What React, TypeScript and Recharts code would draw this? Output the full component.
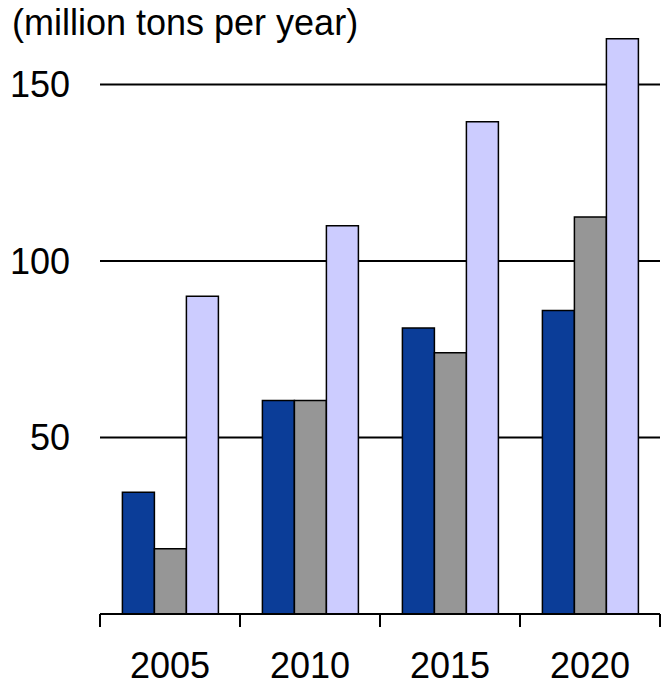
import React from 'react';
import { BarChart, Bar, XAxis, YAxis, CartesianGrid } from 'recharts';

// values (million tons per year)
const years = ['2005', '2010', '2015', '2020'];
const seriesDark = [34.5, 60.5, 81, 86];
const seriesGray = [18.5, 60.5, 74, 112.5];
const seriesLight = [90, 110, 139.5, 163];
const yTicks = [50, 100, 150];
const yMax = 170;

const data = years.map((year, i) => ({
  year,
  dark: seriesDark[i],
  gray: seriesGray[i],
  light: seriesLight[i],
}));

const FONT = '"Liberation Sans", Arial, Helvetica, sans-serif';

// year label centred in the band, tick marks on the band edges
const YearTick = (props: any) => {
  const { x, y, payload, index, width } = props;
  const half = typeof payload.offset === 'number' && payload.offset > 0
    ? payload.offset
    : width / years.length / 2;
  const last = index === years.length - 1;
  return (
    <g>
      <line x1={x - half} x2={x - half} y1={y} y2={y + 13} stroke="#000" strokeWidth={2} />
      {last && <line x1={x + half} x2={x + half} y1={y} y2={y + 13} stroke="#000" strokeWidth={2} />}
      <text x={x} y={y + 64} textAnchor="middle" fontSize={36} fontFamily={FONT} fill="#000">
        {payload.value}
      </text>
    </g>
  );
};

// only the labelled values get a grid line (linear 0..yMax over the plot height)
const gridRows = ({ offset }: any) =>
  yTicks.map((v) => offset.top + offset.height * (1 - v / yMax));

export default function App() {
  return (
    <div style={{ position: 'absolute', left: 0, top: 0, width: 662, height: 686, background: '#fff' }}>
      <div
        style={{
          position: 'absolute',
          left: 12,
          top: 5,
          fontFamily: FONT,
          fontSize: 36,
          lineHeight: '36px',
          color: '#000',
          whiteSpace: 'nowrap',
        }}
      >
        (million tons per year)
      </div>
      <BarChart
        width={662}
        height={686}
        data={data}
        margin={{ top: 14, right: 2, left: 0, bottom: 0 }}
        barCategoryGap="16%"
        barGap={0}
      >
        <CartesianGrid
          horizontal
          vertical={false}
          stroke="#000"
          strokeWidth={2}
          horizontalCoordinatesGenerator={gridRows}
        />
        <XAxis
          dataKey="year"
          height={72}
          axisLine={{ stroke: '#000', strokeWidth: 2 }}
          tickLine={false}
          tickSize={0}
          tickMargin={0}
          tick={<YearTick />}
          interval={0}
        />
        <YAxis
          width={100}
          domain={[0, yMax]}
          ticks={yTicks}
          axisLine={false}
          tickLine={false}
          tickSize={0}
          tickMargin={30}
          tick={{ fill: '#000', fontSize: 36, fontFamily: FONT }}
        />
        <Bar dataKey="dark" fill="#0B3D98" stroke="#000" strokeWidth={1.5} isAnimationActive={false} />
        <Bar dataKey="gray" fill="#969696" stroke="#000" strokeWidth={1.5} isAnimationActive={false} />
        <Bar dataKey="light" fill="#CCCCFF" stroke="#000" strokeWidth={1.5} isAnimationActive={false} />
      </BarChart>
    </div>
  );
}
